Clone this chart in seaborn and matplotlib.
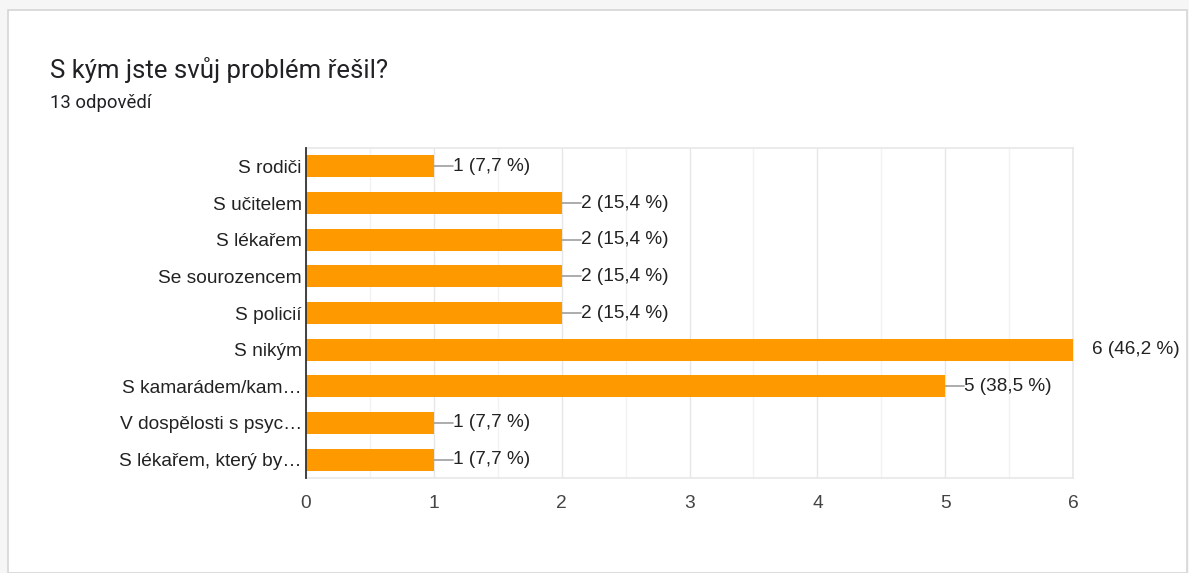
import matplotlib
matplotlib.use("Agg")
import matplotlib.pyplot as plt
import seaborn as sns
import pandas as pd
from matplotlib.patches import Rectangle
from matplotlib.ticker import MultipleLocator

title = "S kým jste svůj problém řešil?"
subtitle = "13 odpovědí"
total_responses = 13
categories = [
    "S rodiči",
    "S učitelem",
    "S lékařem",
    "Se sourozencem",
    "S policií",
    "S nikým",
    "S kamarádem/kam…",
    "V dospělosti s psyc…",
    "S lékařem, který by…",
]
counts = [1, 2, 2, 2, 2, 6, 5, 1, 1]
x_ticks = [0, 1, 2, 3, 4, 5, 6]

df = pd.DataFrame({"kategorie": categories, "pocet": counts})

sns.set_theme(style="white")
plt.rcParams["font.family"] = ["Liberation Sans", "DejaVu Sans"]

W, H = 1189, 573
fig = plt.figure(figsize=(W / 100, H / 100), dpi=100)
fig.patch.set_facecolor("#f6f6f6")

# white card with a soft border, kept behind the chart
fig.patches.append(Rectangle((8 / W, 0), (W - 10) / W, (H - 10) / H,
                             transform=fig.transFigure, facecolor="white",
                             edgecolor="#d6d6d6", linewidth=1.2, zorder=-5))

ax = fig.add_axes([306 / W, 1 - 478 / H, (1073 - 306) / W, (478 - 148) / H])
ax.set_zorder(2)
ax.set_facecolor("white")

sns.barplot(data=df, y="kategorie", x="pocet", orient="h", color="#ff9900",
            saturation=1, width=0.6, ax=ax, zorder=3)
for p in ax.patches:
    p.set_edgecolor("none")

ax.set_xlim(0, 6)
ax.set_ylim(len(categories) - 0.5, -0.5)
ax.xaxis.set_major_locator(MultipleLocator(1))
ax.xaxis.set_minor_locator(MultipleLocator(0.5))
ax.set_xticks(x_ticks)
ax.grid(axis="x", which="major", color="#e6e6e6", linewidth=1, zorder=0)
ax.grid(axis="x", which="minor", color="#f2f2f2", linewidth=1, zorder=0)
ax.set_axisbelow(True)

for side in ("top", "right", "bottom"):
    ax.spines[side].set_color("#e8e8e8")
    ax.spines[side].set_linewidth(1.2)
ax.spines["left"].set_color("#333333")
ax.spines["left"].set_linewidth(1.3)
ax.spines["left"].set_zorder(5)

ax.set_xlabel("")
ax.set_ylabel("")
ax.tick_params(axis="y", length=0, pad=3, labelsize=13.8, labelcolor="#222222")
ax.tick_params(axis="x", which="both", length=0, pad=12, labelsize=13.8,
               labelcolor="#444444")

# value labels with short leader lines
unit = 6 / (1073 - 306)
for i, v in enumerate(counts):
    pct = f"{100 * v / total_responses:.1f}".replace(".", ",")
    ax.plot([v, v + 19 * unit], [i, i], color="#9e9e9e", linewidth=1.2,
            zorder=2, clip_on=True)
    ax.text(v + 19 * unit, i, f"{v} ({pct} %)", va="center", ha="left",
            fontsize=13.7, color="#222222", clip_on=False)

fig.text(50 / W, 1 - 70 / H, title, fontsize=18.5, color="#202124",
         family=["Roboto", "DejaVu Sans"], va="center", ha="left")
fig.text(50 / W, 1 - 103 / H, subtitle, fontsize=13.3, color="#202124",
         family=["Roboto", "DejaVu Sans"], va="center", ha="left")

fig.savefig("out.png", dpi=100, facecolor=fig.get_facecolor())
